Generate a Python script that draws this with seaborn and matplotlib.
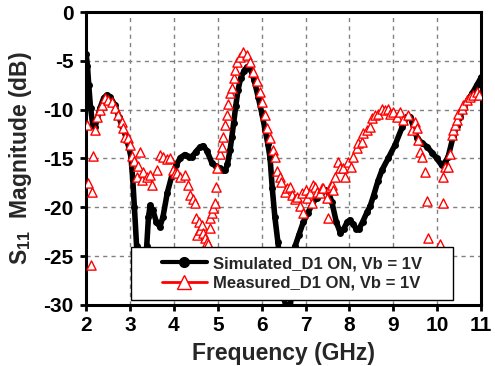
import numpy as np
import pandas as pd
import matplotlib
matplotlib.use('Agg')
import matplotlib.pyplot as plt
import seaborn as sns
from matplotlib.lines import Line2D
from matplotlib.patches import Rectangle

# Simulated S11 (D1 ON, Vb = 1V)
sim_freq = [2.00, 2.03, 2.06, 2.10, 2.15, 2.20, 2.25, 2.32, 2.40, 2.47,
            2.55, 2.65, 2.75, 2.82, 2.90, 2.97, 3.02, 3.06, 3.10, 3.15,
            3.20, 3.25, 3.32, 3.38, 3.42, 3.46, 3.52, 3.60, 3.68, 3.75,
            3.85, 3.95, 4.05, 4.15, 4.25, 4.35, 4.42, 4.50, 4.60, 4.67,
            4.75, 4.87, 4.95, 5.05, 5.12, 5.17, 5.22, 5.28, 5.32, 5.36,
            5.41, 5.46, 5.52, 5.60, 5.67, 5.75, 5.83, 5.92, 6.00, 6.08,
            6.14, 6.19, 6.24, 6.30, 6.37, 6.44, 6.50, 6.58, 6.65, 6.70,
            6.76, 6.85, 6.95, 7.05, 7.15, 7.25, 7.35, 7.45, 7.52, 7.60,
            7.70, 7.79, 7.87, 7.95, 8.01, 8.08, 8.15, 8.22, 8.30, 8.40,
            8.47, 8.55, 8.65, 8.74, 8.88, 9.04, 9.20, 9.31, 9.38, 9.46,
            9.54, 9.65, 9.77, 9.88, 9.99, 10.10, 10.18, 10.25, 10.36, 10.44,
            10.52, 10.60, 10.70, 10.80, 10.90, 11.00]
sim_s11 = [-4.3, -5.5, -7.5, -9.8, -11.5, -11.8, -11.0, -9.8, -8.8, -8.5,
           -8.7, -9.5, -10.8, -11.7, -12.7, -13.8, -14.8, -17.0, -20.0, -24.0,
           -26.5, -28.0, -27.0, -24.0, -21.0, -19.8, -20.3, -21.5, -22.0, -21.0,
           -18.5, -16.8, -15.7, -14.9, -14.6, -14.8, -14.8, -14.3, -13.8, -13.7,
           -14.2, -15.5, -15.8, -16.0, -16.2, -16.2, -15.6, -14.1, -12.8, -11.4,
           -9.6, -8.0, -6.8, -6.0, -5.6, -5.9, -7.0, -8.7, -10.3, -12.1,
           -13.5, -14.9, -18.0, -21.0, -23.6, -26.5, -29.3, -30.5, -30.2, -28.0,
           -24.0, -22.8, -21.5, -20.6, -19.7, -19.0, -18.5, -18.2, -18.4, -19.5,
           -21.5, -22.6, -22.2, -21.5, -21.3, -21.7, -22.2, -22.2, -21.5, -20.5,
           -19.9, -18.8, -17.3, -16.2, -15.0, -13.6, -11.8, -10.7, -10.7, -11.8,
           -12.9, -13.4, -13.8, -14.4, -15.0, -15.7, -15.4, -14.8, -12.8, -11.7,
           -10.7, -9.8, -9.0, -8.3, -7.5, -6.7]

# Measured S11 (D1 ON, Vb = 1V)
meas_freq = [2.02, 2.05, 2.10, 2.14, 2.16, 2.20, 2.25, 2.32, 2.36, 2.43,
             2.50, 2.58, 2.66, 2.73, 2.82, 2.85, 2.89, 2.96, 3.00, 3.05,
             3.10, 3.16, 3.19, 3.23, 3.27, 3.30, 3.38, 3.46, 3.50, 3.61,
             3.69, 3.76, 3.84, 3.91, 3.98, 4.03, 4.07, 4.14, 4.25, 4.33,
             4.37, 4.44, 4.48, 4.50, 4.53, 4.57, 4.60, 4.64, 4.67, 4.71,
             4.76, 4.78, 4.82, 4.83, 4.87, 4.90, 4.94, 4.96, 4.98, 5.05,
             5.10, 5.12, 5.17, 5.20, 5.24, 5.28, 5.32, 5.36, 5.39, 5.43,
             5.50, 5.58, 5.66, 5.73, 5.80, 5.89, 5.96, 6.00, 6.08, 6.12,
             6.19, 6.26, 6.30, 6.34, 6.42, 6.45, 6.53, 6.57, 6.65, 6.69,
             6.76, 6.80, 6.88, 6.92, 6.95, 7.00, 7.03, 7.10, 7.15, 7.17,
             7.21, 7.26, 7.33, 7.37, 7.40, 7.49, 7.51, 7.56, 7.60, 7.63,
             7.67, 7.74, 7.79, 7.85, 7.90, 7.97, 8.03, 8.08, 8.17, 8.20,
             8.29, 8.31, 8.40, 8.47, 8.51, 8.58, 8.65, 8.74, 8.81, 8.88,
             8.92, 8.99, 9.08, 9.15, 9.22, 9.34, 9.43, 9.49, 9.54, 9.56,
             9.60, 9.65, 9.72, 9.77, 9.79, 10.06, 10.13, 10.14, 10.18, 10.25,
             10.29, 10.34, 10.36, 10.40, 10.45, 10.47, 10.56, 10.59, 10.68, 10.75,
             10.82, 10.90, 10.95]
meas_s11 = [-11.6, -17.5, -25.9, -18.4, -14.7, -12.1, -10.7, -10.0, -9.5, -8.8,
            -9.0, -9.2, -9.8, -10.5, -11.3, -11.9, -12.8, -12.9, -13.6, -14.7,
            -15.3, -16.9, -15.8, -14.3, -17.2, -16.4, -16.9, -16.7, -17.7, -16.2,
            -14.6, -14.8, -15.1, -15.0, -16.2, -16.5, -16.5, -16.9, -16.7, -17.7,
            -18.7, -19.2, -19.6, -21.1, -22.8, -21.5, -22.3, -21.8, -22.6, -23.1,
            -23.6, -23.8, -22.1, -21.1, -20.6, -20.1, -19.6, -17.9, -16.0, -14.5,
            -13.8, -12.8, -11.6, -10.5, -9.4, -8.3, -7.8, -6.8, -5.9, -5.1,
            -4.6, -4.1, -4.4, -5.1, -6.1, -7.1, -8.2, -9.2, -10.5, -11.9,
            -12.9, -14.1, -14.8, -16.3, -16.9, -17.4, -18.4, -18.0, -17.9, -18.7,
            -19.2, -18.9, -19.9, -18.5, -20.6, -18.2, -19.0, -18.5, -19.6, -17.7,
            -17.9, -18.4, -18.5, -18.0, -18.0, -19.0, -21.1, -17.9, -17.7, -18.2,
            -16.9, -15.4, -16.0, -16.0, -16.9, -15.4, -15.9, -14.8, -13.9, -13.4,
            -13.3, -12.4, -12.1, -11.8, -10.9, -10.5, -10.4, -9.9, -10.0, -9.9,
            -10.4, -10.2, -10.7, -10.2, -11.1, -10.5, -12.1, -11.3, -11.9, -13.1,
            -14.3, -14.8, -16.4, -19.4, -23.1, -23.8, -19.6, -16.9, -15.9, -15.9,
            -14.5, -12.6, -12.1, -11.6, -11.1, -10.4, -9.9, -9.5, -9.0, -8.7,
            -8.5, -8.2, -8.5]

x_ticks = [2, 3, 4, 5, 6, 7, 8, 9, 10, 11]
y_ticks = [-30, -25, -20, -15, -10, -5, 0]
sim_label = 'Simulated_D1 ON, Vb = 1V'
meas_label = 'Measured_D1 ON, Vb = 1V'

sns.set_style('ticks')
plt.rcParams['font.family'] = ['Liberation Sans', 'DejaVu Sans']
plt.rcParams['font.weight'] = 'bold'
plt.rcParams['axes.unicode_minus'] = False
plt.rcParams['mathtext.fontset'] = 'custom'
plt.rcParams['mathtext.rm'] = 'Liberation Sans:bold'
plt.rcParams['mathtext.it'] = 'Liberation Sans:bold'
plt.rcParams['mathtext.bf'] = 'Liberation Sans:bold'

sim = pd.DataFrame({'freq': sim_freq, 's11': sim_s11})
meas = pd.DataFrame({'freq': meas_freq, 's11': meas_s11})

fig = plt.figure(figsize=(4.95, 3.66), dpi=100)
ax = fig.add_axes([0.174, 0.167, 0.798, 0.800])

sns.lineplot(data=sim, x='freq', y='s11', ax=ax, color='black', lw=4.0,
             marker='o', markersize=5, markeredgewidth=0, sort=False,
             estimator=None, zorder=3)
sns.scatterplot(data=meas, x='freq', y='s11', ax=ax, marker='^', s=44,
                color='white', edgecolor='red', linewidth=1.0, zorder=4)

ax.set_xlim(2, 11)
ax.set_ylim(-30, 0)
ax.set_xticks(x_ticks)
ax.set_yticks(y_ticks)
ax.grid(True, ls=(0, (3, 3)), color='#808080', lw=1.0)
ax.set_axisbelow(True)

for sp in ax.spines.values():
    sp.set_linewidth(2.2)
    sp.set_color('black')
ax.tick_params(axis='both', direction='out', length=4, width=2, labelsize=15,
               pad=4, colors='black')
ax.tick_params(axis='y', pad=5)
for lab in ax.get_xticklabels() + ax.get_yticklabels():
    lab.set_fontweight('bold')

ax.set_xlabel('Frequency (GHz)', fontsize=16.5, fontweight='bold', labelpad=5)
ax.set_ylabel('S$_{11}$  Magnitude (dB)', fontsize=16.5, fontweight='bold', labelpad=7)

# legend box
ax.add_patch(Rectangle((0.114, 0.017), 0.815, 0.181, transform=ax.transAxes,
                       facecolor='white', edgecolor='black', lw=1.0, zorder=5))
handles = [Line2D([], [], color='black', lw=3, marker='o', markersize=7),
           Line2D([], [], color='red', lw=2, marker='^', markersize=10,
                  markerfacecolor='white', markeredgecolor='red', markeredgewidth=1)]
leg = ax.legend(handles, [sim_label, meas_label], loc='center',
                bbox_to_anchor=(0.5215, 0.1075), frameon=False, numpoints=1,
                handlelength=2.7, handletextpad=0.4, labelspacing=0.25,
                prop={'family': 'Liberation Sans', 'weight': 'bold', 'size': 12})
leg.set_zorder(6)

fig.savefig('out.png', dpi=100)
